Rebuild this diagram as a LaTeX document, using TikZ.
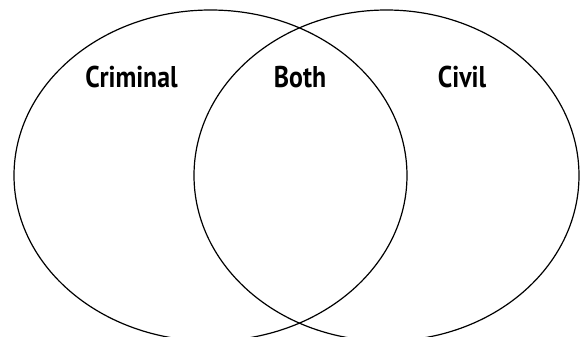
\documentclass[tikz,border=0pt]{standalone}
\usepackage{fontspec}
\setmainfont{PT Sans}
\usepackage{tikz}
\tikzset{
  every picture/.style={line join=round, line cap=round},
  set/.style={line width=1.2pt},
  lbl/.style={anchor=base, inner sep=0pt, font=\fontsize{30}{36}\selectfont\bfseries},
}

\begin{document}
\begin{tikzpicture}[x=1pt,y=-1pt]
\useasboundingbox (0,0) rectangle (587,337);
\coordinate (crim) at (210.5,175.5);
\coordinate (civ) at (386.5,175.5);
\draw[set] (crim) ellipse [x radius=196.5, y radius=165.5];
\draw[set] (civ) ellipse [x radius=192.5, y radius=165.5];
\node[lbl] (criminal) at (131.5,88) {\scalebox{0.86}[1]{Criminal}};
\node[lbl] (both) at (300,88) {\scalebox{0.86}[1]{Both}};
\node[lbl] (civil) at (462,88) {\scalebox{0.86}[1]{Civil}};
\end{tikzpicture}
\end{document}
